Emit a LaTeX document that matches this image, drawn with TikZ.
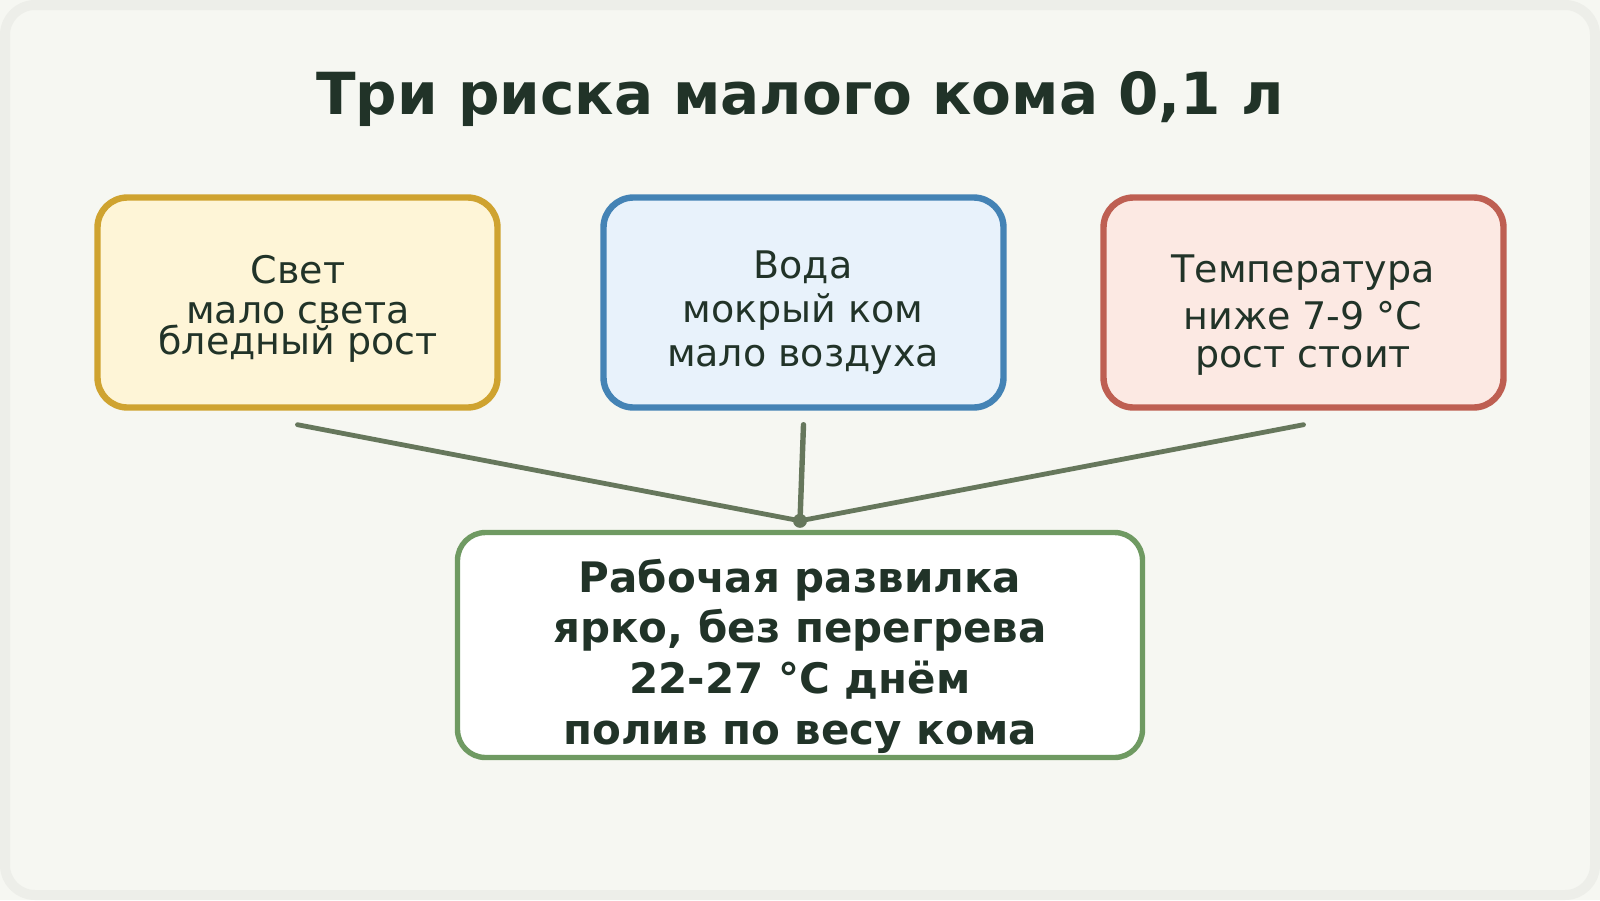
\documentclass[tikz,border=0pt]{standalone}
\usepackage{fontspec}
\setmainfont{DejaVu Sans}
\definecolor{pagebg}{HTML}{F6F7F2}
\definecolor{framegray}{HTML}{EDEEE9}
\definecolor{ink}{HTML}{213328}
\definecolor{linkc}{HTML}{66775C}
\definecolor{yfill}{HTML}{FEF5D7}
\definecolor{ydraw}{HTML}{CFA330}
\definecolor{bfill}{HTML}{E8F2FB}
\definecolor{bdraw}{HTML}{4483B5}
\definecolor{rfill}{HTML}{FCE9E3}
\definecolor{rdraw}{HTML}{BE5F52}
\definecolor{gdraw}{HTML}{6F9A62}
\begin{document}
\begin{tikzpicture}[x=0.5pt,y=-0.5pt,
  riskbox/.style={draw, line width=3.2pt, rounded corners=15pt, minimum width=200pt, minimum height=105pt, inner sep=0pt},
  risktext/.style={text=ink, font=\fontsize{19}{22}\selectfont, align=center, inner sep=0pt},
  mainbox/.style={draw=gdraw, fill=white, line width=2.7pt, rounded corners=14pt, minimum width=342.5pt, minimum height=112.5pt, inner sep=0pt},
  maintext/.style={text=ink, font=\fontsize{21}{25.35}\selectfont\bfseries, align=center, inner sep=0pt},
  link/.style={draw=linkc, line width=2.4pt, line cap=round}]
\useasboundingbox (0,0) rectangle (1600,900);
\fill[pagebg] (0,0) rectangle (1600,900);
\draw[framegray, line width=5pt, fill=pagebg, rounded corners=15pt] (5,5) rectangle (1595,895);
\node[text=ink, font=\fontsize{29}{35}\selectfont\bfseries, anchor=base, inner sep=0pt] (title) at (800,114) {Три риска малого кома 0,1 л};
\node[riskbox, draw=ydraw, fill=yfill] (b1) at (297.5,302.5) {};
\node[riskbox, draw=bdraw, fill=bfill] (b2) at (803.5,302.5) {};
\node[riskbox, draw=rdraw, fill=rfill] (b3) at (1303.5,302.5) {};
\node[risktext] (t1) at (298,309) {Свет\\[-2pt]мало света\\[-6.2pt]бледный рост};
\node[risktext] (t2) at (803,313) {Вода\\мокрый ком\\мало воздуха};
\node[risktext] (t3) at (1303,315) {Температура\\[1.3pt]ниже 7-9 °C\\[-2.8pt]рост стоит};
\node[mainbox] (m) at (800,645) {};
\node[maintext] (mt) at (800,656) {Рабочая развилка\\ярко, без перегрева\\22-27 °C днём\\полив по весу кома};
\coordinate (s1) at ([yshift=-7pt]b1.south);
\coordinate (s2) at ([yshift=-7pt]b2.south);
\coordinate (s3) at ([yshift=-7pt]b3.south);
\coordinate (j) at ([yshift=4.5pt]m.north);
\draw[link] (s1) -- (j);
\draw[link, line width=2.7pt] (s2) -- (j);
\draw[link] (s3) -- (j);
\fill[linkc] (j) circle (3.5pt);
\end{tikzpicture}
\end{document}
